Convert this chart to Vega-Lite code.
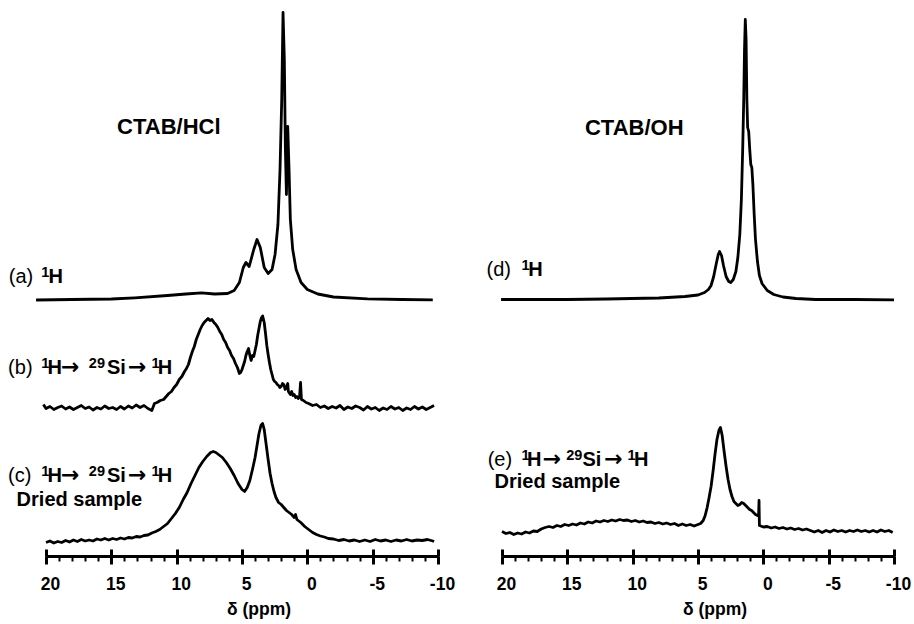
{
"$schema": "https://vega.github.io/schema/vega-lite/v6.json",
"padding": {"left": 8, "top": 10, "right": 5, "bottom": 5},
"autosize": {"type": "pad"},
"bounds": "flush",
"spacing": 64,
"config": {"view": {"stroke": null}, "font": "Liberation Sans"},
"datasets": {
"spec": [
{"s":"a","d":20.76,"i":256},{"s":"a","d":18,"i":256.5},{"s":"a","d":15,"i":257},{"s":"a","d":13.2,"i":258.2},{"s":"a","d":10.7,"i":260.5},{"s":"a","d":9.3,"i":262},{"s":"a","d":8.1,"i":263.2},{"s":"a","d":7.1,"i":262},{"s":"a","d":6.1,"i":262.5},{"s":"a","d":5.6,"i":265.5},{"s":"a","d":5.2,"i":273.5},{"s":"a","d":4.9,"i":288.5},{"s":"a","d":4.7,"i":293.5},{"s":"a","d":4.45,"i":289.5},{"s":"a","d":4.1,"i":306.5},{"s":"a","d":3.85,"i":316.5},{"s":"a","d":3.6,"i":308.5},{"s":"a","d":3.3,"i":288.5},{"s":"a","d":3.0,"i":282.5},{"s":"a","d":2.7,"i":286.5},{"s":"a","d":2.47,"i":301.5},{"s":"a","d":2.25,"i":331.5},{"s":"a","d":2.09,"i":386.5},{"s":"a","d":1.96,"i":456.5},{"s":"a","d":1.86,"i":543.5},{"s":"a","d":1.76,"i":496.5},{"s":"a","d":1.68,"i":406.5},{"s":"a","d":1.6,"i":361.5},{"s":"a","d":1.5,"i":429.5},{"s":"a","d":1.4,"i":386.5},{"s":"a","d":1.3,"i":336.5},{"s":"a","d":1.12,"i":306.5},{"s":"a","d":0.86,"i":286.5},{"s":"a","d":0.48,"i":273.5},{"s":"a","d":0,"i":266.5},{"s":"a","d":-0.8,"i":262},{"s":"a","d":-2.0,"i":259},{"s":"a","d":-4.6,"i":257.2},{"s":"a","d":-7.2,"i":256.5},{"s":"a","d":-9.6,"i":256.2},

{"s":"b","d":20.2,"i":151.5},{"s":"b","d":20.0,"i":147.5},{"s":"b","d":19.7,"i":149.5},{"s":"b","d":19.4,"i":146.5},{"s":"b","d":19.1,"i":148.5},{"s":"b","d":18.8,"i":150},{"s":"b","d":18.5,"i":147},{"s":"b","d":18.2,"i":149},{"s":"b","d":17.9,"i":146.5},{"s":"b","d":17.6,"i":148.5},{"s":"b","d":17.3,"i":150.5},{"s":"b","d":17.0,"i":147.5},{"s":"b","d":16.7,"i":149},{"s":"b","d":16.4,"i":146},{"s":"b","d":16.1,"i":148.5},{"s":"b","d":15.8,"i":147},{"s":"b","d":15.5,"i":150},{"s":"b","d":15.2,"i":147.5},{"s":"b","d":14.9,"i":148.5},{"s":"b","d":14.6,"i":146.5},{"s":"b","d":14.3,"i":149.5},{"s":"b","d":14.0,"i":147},{"s":"b","d":13.7,"i":150},{"s":"b","d":13.4,"i":148},{"s":"b","d":13.1,"i":151},{"s":"b","d":12.8,"i":148.5},{"s":"b","d":12.5,"i":150.5},{"s":"b","d":12.2,"i":147.5},{"s":"b","d":11.9,"i":145.5},{"s":"b","d":11.7,"i":152.5},{"s":"b","d":11.5,"i":153.5},{"s":"b","d":11.25,"i":155.5},{"s":"b","d":11.0,"i":156.5},{"s":"b","d":10.8,"i":159.5},{"s":"b","d":10.6,"i":162.5},{"s":"b","d":10.4,"i":164.5},{"s":"b","d":10.2,"i":168.5},{"s":"b","d":10.0,"i":171.5},{"s":"b","d":9.8,"i":176.5},{"s":"b","d":9.6,"i":179.5},{"s":"b","d":9.4,"i":184.5},{"s":"b","d":9.25,"i":187.5},{"s":"b","d":9.1,"i":191.5},{"s":"b","d":8.95,"i":198.5},{"s":"b","d":8.8,"i":204.5},{"s":"b","d":8.65,"i":209.5},{"s":"b","d":8.5,"i":216.5},{"s":"b","d":8.35,"i":221.5},{"s":"b","d":8.2,"i":226.5},{"s":"b","d":8.05,"i":230.5},{"s":"b","d":7.9,"i":233.5},{"s":"b","d":7.75,"i":235.5},{"s":"b","d":7.6,"i":237.5},{"s":"b","d":7.45,"i":235.5},{"s":"b","d":7.3,"i":236.5},{"s":"b","d":7.15,"i":233.5},{"s":"b","d":7.0,"i":231.5},{"s":"b","d":6.85,"i":228.5},{"s":"b","d":6.7,"i":224.5},{"s":"b","d":6.55,"i":221.5},{"s":"b","d":6.4,"i":216.5},{"s":"b","d":6.25,"i":213.5},{"s":"b","d":6.1,"i":208.5},{"s":"b","d":5.95,"i":205.5},{"s":"b","d":5.8,"i":200.5},{"s":"b","d":5.65,"i":197.5},{"s":"b","d":5.5,"i":192.5},{"s":"b","d":5.35,"i":188.5},{"s":"b","d":5.2,"i":182.5},{"s":"b","d":5.1,"i":183.5},{"s":"b","d":5.0,"i":186.5},{"s":"b","d":4.9,"i":190.5},{"s":"b","d":4.8,"i":194.5},{"s":"b","d":4.7,"i":200.5},{"s":"b","d":4.6,"i":204.5},{"s":"b","d":4.5,"i":207.5},{"s":"b","d":4.4,"i":200.5},{"s":"b","d":4.3,"i":195.5},{"s":"b","d":4.2,"i":200.5},{"s":"b","d":4.1,"i":199.5},{"s":"b","d":4.0,"i":205.5},{"s":"b","d":3.9,"i":211.5},{"s":"b","d":3.8,"i":220.5},{"s":"b","d":3.7,"i":227.5},{"s":"b","d":3.6,"i":234.5},{"s":"b","d":3.5,"i":238.5},{"s":"b","d":3.42,"i":240},{"s":"b","d":3.3,"i":233.5},{"s":"b","d":3.2,"i":222.5},{"s":"b","d":3.1,"i":210.5},{"s":"b","d":3.0,"i":201.5},{"s":"b","d":2.9,"i":193.5},{"s":"b","d":2.8,"i":186.5},{"s":"b","d":2.7,"i":181.5},{"s":"b","d":2.6,"i":176.5},{"s":"b","d":2.5,"i":174.5},{"s":"b","d":2.4,"i":173.5},{"s":"b","d":2.3,"i":171.5},{"s":"b","d":2.2,"i":170.5},{"s":"b","d":2.1,"i":168.5},{"s":"b","d":2.0,"i":169.5},{"s":"b","d":1.9,"i":172.5},{"s":"b","d":1.8,"i":171.5},{"s":"b","d":1.7,"i":166.5},{"s":"b","d":1.6,"i":168.5},{"s":"b","d":1.5,"i":172.5},{"s":"b","d":1.45,"i":164.5},{"s":"b","d":1.3,"i":161.5},{"s":"b","d":1.2,"i":164.5},{"s":"b","d":1.1,"i":160.5},{"s":"b","d":1.0,"i":161.5},{"s":"b","d":0.9,"i":158.5},{"s":"b","d":0.8,"i":159.5},{"s":"b","d":0.7,"i":157.5},{"s":"b","d":0.6,"i":158.5},{"s":"b","d":0.52,"i":173.5},{"s":"b","d":0.45,"i":156.5},{"s":"b","d":0.3,"i":155.5},{"s":"b","d":0.1,"i":153.5},{"s":"b","d":-0.1,"i":152.5},{"s":"b","d":-0.4,"i":150.5},{"s":"b","d":-0.7,"i":151.5},{"s":"b","d":-1.0,"i":148.5},{"s":"b","d":-1.3,"i":150},{"s":"b","d":-1.6,"i":147.5},{"s":"b","d":-1.9,"i":149.5},{"s":"b","d":-2.2,"i":148},{"s":"b","d":-2.5,"i":150.5},{"s":"b","d":-2.8,"i":146.5},{"s":"b","d":-3.1,"i":149},{"s":"b","d":-3.4,"i":147.5},{"s":"b","d":-3.7,"i":150},{"s":"b","d":-4.0,"i":148.5},{"s":"b","d":-4.3,"i":146},{"s":"b","d":-4.6,"i":149.5},{"s":"b","d":-4.9,"i":147},{"s":"b","d":-5.2,"i":148.5},{"s":"b","d":-5.5,"i":145.5},{"s":"b","d":-5.8,"i":148},{"s":"b","d":-6.1,"i":146.5},{"s":"b","d":-6.4,"i":149.5},{"s":"b","d":-6.7,"i":147},{"s":"b","d":-7.0,"i":148.5},{"s":"b","d":-7.3,"i":145.5},{"s":"b","d":-7.6,"i":148},{"s":"b","d":-7.9,"i":146.5},{"s":"b","d":-8.2,"i":149.5},{"s":"b","d":-8.5,"i":147},{"s":"b","d":-8.8,"i":149},{"s":"b","d":-9.1,"i":146.5},{"s":"b","d":-9.4,"i":148.5},{"s":"b","d":-9.7,"i":150.5},

{"s":"c","d":20.0,"i":13.5},{"s":"c","d":19.7,"i":15},{"s":"c","d":19.4,"i":13},{"s":"c","d":19.1,"i":14.5},{"s":"c","d":18.8,"i":13.5},{"s":"c","d":18.5,"i":15.5},{"s":"c","d":18.2,"i":14},{"s":"c","d":17.9,"i":16},{"s":"c","d":17.6,"i":14.5},{"s":"c","d":17.3,"i":16.5},{"s":"c","d":17.0,"i":15},{"s":"c","d":16.7,"i":16},{"s":"c","d":16.4,"i":15},{"s":"c","d":16.1,"i":17},{"s":"c","d":15.8,"i":16},{"s":"c","d":15.5,"i":17.5},{"s":"c","d":15.2,"i":16},{"s":"c","d":14.9,"i":17.5},{"s":"c","d":14.6,"i":16.5},{"s":"c","d":14.3,"i":18},{"s":"c","d":14.0,"i":17},{"s":"c","d":13.7,"i":18.5},{"s":"c","d":13.4,"i":18},{"s":"c","d":13.1,"i":19.5},{"s":"c","d":12.8,"i":19},{"s":"c","d":12.5,"i":20.5},{"s":"c","d":12.2,"i":21},{"s":"c","d":11.9,"i":23},{"s":"c","d":11.6,"i":24.5},{"s":"c","d":11.3,"i":26.5},{"s":"c","d":11.0,"i":29.5},{"s":"c","d":10.7,"i":32.5},{"s":"c","d":10.4,"i":37.5},{"s":"c","d":10.1,"i":42.5},{"s":"c","d":9.8,"i":48.5},{"s":"c","d":9.5,"i":56.5},{"s":"c","d":9.2,"i":63.5},{"s":"c","d":8.9,"i":72.5},{"s":"c","d":8.6,"i":80.5},{"s":"c","d":8.3,"i":88.5},{"s":"c","d":8.0,"i":94.5},{"s":"c","d":7.7,"i":99.5},{"s":"c","d":7.4,"i":103.5},{"s":"c","d":7.2,"i":104.5},{"s":"c","d":7.0,"i":103.5},{"s":"c","d":6.8,"i":101.5},{"s":"c","d":6.5,"i":98.5},{"s":"c","d":6.2,"i":93.5},{"s":"c","d":5.9,"i":87.5},{"s":"c","d":5.6,"i":80.5},{"s":"c","d":5.3,"i":72.5},{"s":"c","d":5.0,"i":66.5},{"s":"c","d":4.8,"i":64.5},{"s":"c","d":4.6,"i":68.5},{"s":"c","d":4.4,"i":75.5},{"s":"c","d":4.2,"i":86.5},{"s":"c","d":4.0,"i":98.5},{"s":"c","d":3.85,"i":110.5},{"s":"c","d":3.7,"i":122.5},{"s":"c","d":3.55,"i":130.5},{"s":"c","d":3.42,"i":132.5},{"s":"c","d":3.3,"i":126.5},{"s":"c","d":3.15,"i":111.5},{"s":"c","d":3.0,"i":96.5},{"s":"c","d":2.85,"i":82.5},{"s":"c","d":2.7,"i":72.5},{"s":"c","d":2.55,"i":64.5},{"s":"c","d":2.4,"i":58.5},{"s":"c","d":2.2,"i":53.5},{"s":"c","d":2.0,"i":51.5},{"s":"c","d":1.8,"i":48.5},{"s":"c","d":1.6,"i":45.5},{"s":"c","d":1.4,"i":43.5},{"s":"c","d":1.2,"i":41.5},{"s":"c","d":1.0,"i":38.5},{"s":"c","d":0.9,"i":41.5},{"s":"c","d":0.8,"i":36.5},{"s":"c","d":0.5,"i":33.5},{"s":"c","d":0.2,"i":29.5},{"s":"c","d":-0.1,"i":26.5},{"s":"c","d":-0.4,"i":23.5},{"s":"c","d":-0.7,"i":21.5},{"s":"c","d":-1.0,"i":20},{"s":"c","d":-1.3,"i":19},{"s":"c","d":-1.6,"i":17.5},{"s":"c","d":-2.0,"i":17},{"s":"c","d":-2.4,"i":15.5},{"s":"c","d":-2.8,"i":16.5},{"s":"c","d":-3.2,"i":15},{"s":"c","d":-3.6,"i":16},{"s":"c","d":-4.0,"i":14.5},{"s":"c","d":-4.4,"i":16},{"s":"c","d":-4.8,"i":14.5},{"s":"c","d":-5.2,"i":16.5},{"s":"c","d":-5.6,"i":15},{"s":"c","d":-6.0,"i":16},{"s":"c","d":-6.4,"i":14.5},{"s":"c","d":-6.8,"i":16},{"s":"c","d":-7.2,"i":15},{"s":"c","d":-7.6,"i":16.5},{"s":"c","d":-8.0,"i":15},{"s":"c","d":-8.4,"i":16},{"s":"c","d":-8.8,"i":15.5},{"s":"c","d":-9.2,"i":16.5},{"s":"c","d":-9.6,"i":15},{"s":"c","d":-9.7,"i":14.5},

{"s":"d","d":20.07,"i":256.5},{"s":"d","d":15,"i":256.5},{"s":"d","d":12,"i":257},{"s":"d","d":10.1,"i":257.5},{"s":"d","d":8,"i":258},{"s":"d","d":6,"i":259.5},{"s":"d","d":5,"i":261},{"s":"d","d":4.5,"i":263.5},{"s":"d","d":4.2,"i":266.5},{"s":"d","d":4.0,"i":270.5},{"s":"d","d":3.8,"i":279.5},{"s":"d","d":3.6,"i":292.5},{"s":"d","d":3.45,"i":301.5},{"s":"d","d":3.35,"i":304.5},{"s":"d","d":3.2,"i":300.5},{"s":"d","d":3.05,"i":290.5},{"s":"d","d":2.85,"i":279.5},{"s":"d","d":2.65,"i":274.5},{"s":"d","d":2.5,"i":273.5},{"s":"d","d":2.3,"i":276.5},{"s":"d","d":2.1,"i":284.5},{"s":"d","d":1.95,"i":298.5},{"s":"d","d":1.8,"i":321.5},{"s":"d","d":1.68,"i":356.5},{"s":"d","d":1.58,"i":406.5},{"s":"d","d":1.5,"i":456.5},{"s":"d","d":1.44,"i":506.5},{"s":"d","d":1.38,"i":536.5},{"s":"d","d":1.32,"i":516.5},{"s":"d","d":1.26,"i":456.5},{"s":"d","d":1.2,"i":428.5},{"s":"d","d":1.12,"i":424.5},{"s":"d","d":1.04,"i":406.5},{"s":"d","d":0.96,"i":391.5},{"s":"d","d":0.88,"i":388.5},{"s":"d","d":0.8,"i":371.5},{"s":"d","d":0.7,"i":341.5},{"s":"d","d":0.6,"i":316.5},{"s":"d","d":0.45,"i":294.5},{"s":"d","d":0.3,"i":280.5},{"s":"d","d":0.1,"i":272.5},{"s":"d","d":-0.3,"i":265.5},{"s":"d","d":-0.8,"i":261.5},{"s":"d","d":-1.5,"i":259},{"s":"d","d":-2.5,"i":257.5},{"s":"d","d":-4,"i":256.5},{"s":"d","d":-7,"i":256.5},{"s":"d","d":-10,"i":256.2},

{"s":"e","d":20.0,"i":24.5},{"s":"e","d":19.7,"i":22.5},{"s":"e","d":19.4,"i":23.5},{"s":"e","d":19.1,"i":21.5},{"s":"e","d":18.8,"i":23},{"s":"e","d":18.5,"i":22},{"s":"e","d":18.2,"i":24},{"s":"e","d":17.9,"i":23},{"s":"e","d":17.6,"i":25},{"s":"e","d":17.3,"i":24.5},{"s":"e","d":17.0,"i":27},{"s":"e","d":16.7,"i":28.5},{"s":"e","d":16.4,"i":29.5},{"s":"e","d":16.1,"i":28.5},{"s":"e","d":15.8,"i":30.5},{"s":"e","d":15.5,"i":29.5},{"s":"e","d":15.2,"i":31.5},{"s":"e","d":14.9,"i":30.5},{"s":"e","d":14.6,"i":32},{"s":"e","d":14.3,"i":31},{"s":"e","d":14.0,"i":33},{"s":"e","d":13.7,"i":32},{"s":"e","d":13.4,"i":34},{"s":"e","d":13.1,"i":33},{"s":"e","d":12.8,"i":35},{"s":"e","d":12.5,"i":34},{"s":"e","d":12.2,"i":35.5},{"s":"e","d":11.9,"i":34.5},{"s":"e","d":11.6,"i":36},{"s":"e","d":11.3,"i":35},{"s":"e","d":11.0,"i":36.5},{"s":"e","d":10.7,"i":35.5},{"s":"e","d":10.4,"i":36},{"s":"e","d":10.1,"i":34.5},{"s":"e","d":9.8,"i":35.5},{"s":"e","d":9.5,"i":34},{"s":"e","d":9.2,"i":35},{"s":"e","d":8.9,"i":33.5},{"s":"e","d":8.6,"i":34},{"s":"e","d":8.3,"i":32.5},{"s":"e","d":8.0,"i":33.5},{"s":"e","d":7.7,"i":32},{"s":"e","d":7.4,"i":33},{"s":"e","d":7.1,"i":31.5},{"s":"e","d":6.8,"i":32.5},{"s":"e","d":6.5,"i":30.5},{"s":"e","d":6.2,"i":32},{"s":"e","d":5.9,"i":30.5},{"s":"e","d":5.6,"i":31.5},{"s":"e","d":5.3,"i":30},{"s":"e","d":5.0,"i":31.5},{"s":"e","d":4.8,"i":32.5},{"s":"e","d":4.6,"i":35.5},{"s":"e","d":4.45,"i":40.5},{"s":"e","d":4.3,"i":48.5},{"s":"e","d":4.15,"i":58.5},{"s":"e","d":4.0,"i":69.5},{"s":"e","d":3.85,"i":84.5},{"s":"e","d":3.7,"i":101.5},{"s":"e","d":3.55,"i":116.5},{"s":"e","d":3.4,"i":125.5},{"s":"e","d":3.28,"i":128.5},{"s":"e","d":3.15,"i":120.5},{"s":"e","d":3.0,"i":104.5},{"s":"e","d":2.85,"i":89.5},{"s":"e","d":2.7,"i":76.5},{"s":"e","d":2.55,"i":66.5},{"s":"e","d":2.4,"i":59.5},{"s":"e","d":2.25,"i":54.5},{"s":"e","d":2.1,"i":52.5},{"s":"e","d":1.95,"i":50.5},{"s":"e","d":1.8,"i":51.5},{"s":"e","d":1.65,"i":53.5},{"s":"e","d":1.5,"i":52.5},{"s":"e","d":1.35,"i":50.5},{"s":"e","d":1.2,"i":48.5},{"s":"e","d":1.05,"i":46.5},{"s":"e","d":0.9,"i":45.5},{"s":"e","d":0.75,"i":43.5},{"s":"e","d":0.6,"i":41.5},{"s":"e","d":0.45,"i":40.5},{"s":"e","d":0.36,"i":41.5},{"s":"e","d":0.33,"i":55.5},{"s":"e","d":0.3,"i":30.5},{"s":"e","d":0.0,"i":29},{"s":"e","d":-0.3,"i":29.5},{"s":"e","d":-0.6,"i":28},{"s":"e","d":-0.9,"i":29},{"s":"e","d":-1.2,"i":27.5},{"s":"e","d":-1.5,"i":28.5},{"s":"e","d":-1.8,"i":27},{"s":"e","d":-2.1,"i":28},{"s":"e","d":-2.4,"i":26.5},{"s":"e","d":-2.7,"i":27.5},{"s":"e","d":-3.0,"i":26},{"s":"e","d":-3.3,"i":27},{"s":"e","d":-3.6,"i":25.5},{"s":"e","d":-3.9,"i":24},{"s":"e","d":-4.2,"i":25.5},{"s":"e","d":-4.5,"i":23.5},{"s":"e","d":-4.8,"i":25.5},{"s":"e","d":-5.1,"i":24},{"s":"e","d":-5.4,"i":26},{"s":"e","d":-5.7,"i":24.5},{"s":"e","d":-6.0,"i":25.5},{"s":"e","d":-6.3,"i":24},{"s":"e","d":-6.6,"i":25.5},{"s":"e","d":-6.9,"i":24.5},{"s":"e","d":-7.2,"i":26},{"s":"e","d":-7.5,"i":24.5},{"s":"e","d":-7.8,"i":25.5},{"s":"e","d":-8.1,"i":24},{"s":"e","d":-8.4,"i":25.5},{"s":"e","d":-8.7,"i":24},{"s":"e","d":-9.0,"i":26},{"s":"e","d":-9.3,"i":24.5},{"s":"e","d":-9.6,"i":25.5},{"s":"e","d":-9.9,"i":23.5}
],
"lab": [
{"p":"L","k":"n","d":22.85,"i":273.2,"t":"(a)"},
{"p":"L","k":"s","d":20.36,"i":279.2,"t":"1"},
{"p":"L","k":"b","d":19.81,"i":273.2,"t":"H"},
{"p":"L","k":"n","d":22.9,"i":182.5,"t":"(b)"},
{"p":"L","k":"s","d":20.36,"i":188.5,"t":"1"},
{"p":"L","k":"b","d":19.88,"i":182.5,"t":"H"},
{"p":"L","k":"a","d":18.86,"i":182.5,"t":"→"},
{"p":"L","k":"s","d":16.72,"i":188.5,"t":"29"},
{"p":"L","k":"b","d":15.33,"i":182.5,"t":"Si"},
{"p":"L","k":"a","d":13.72,"i":182.5,"t":"→"},
{"p":"L","k":"s","d":11.92,"i":188.5,"t":"1"},
{"p":"L","k":"b","d":11.45,"i":182.5,"t":"H"},
{"p":"L","k":"n","d":22.9,"i":73.8,"t":"(c)"},
{"p":"L","k":"s","d":20.36,"i":79.8,"t":"1"},
{"p":"L","k":"b","d":19.88,"i":73.8,"t":"H"},
{"p":"L","k":"a","d":18.86,"i":73.8,"t":"→"},
{"p":"L","k":"s","d":16.72,"i":79.8,"t":"29"},
{"p":"L","k":"b","d":15.33,"i":73.8,"t":"Si"},
{"p":"L","k":"a","d":13.72,"i":73.8,"t":"→"},
{"p":"L","k":"s","d":11.92,"i":79.8,"t":"1"},
{"p":"L","k":"b","d":11.45,"i":73.8,"t":"H"},
{"p":"L","k":"b","d":22.25,"i":49.8,"t":"Dried sample"},
{"p":"L","k":"t","d":14.56,"i":422.5,"t":"CTAB/HCl"},
{"p":"R","k":"n","d":21.18,"i":279.8,"t":"(d)"},
{"p":"R","k":"s","d":18.5,"i":285.8,"t":"1"},
{"p":"R","k":"b","d":18.0,"i":279.8,"t":"H"},
{"p":"R","k":"n","d":21.1,"i":90.5,"t":"(e)"},
{"p":"R","k":"s","d":18.5,"i":96.5,"t":"1"},
{"p":"R","k":"b","d":18.08,"i":90.5,"t":"H"},
{"p":"R","k":"a","d":16.88,"i":90.5,"t":"→"},
{"p":"R","k":"s","d":15.08,"i":96.5,"t":"29"},
{"p":"R","k":"b","d":13.84,"i":90.5,"t":"Si"},
{"p":"R","k":"a","d":12.17,"i":90.5,"t":"→"},
{"p":"R","k":"s","d":10.4,"i":96.5,"t":"1"},
{"p":"R","k":"b","d":9.9,"i":90.5,"t":"H"},
{"p":"R","k":"b","d":20.57,"i":68.5,"t":"Dried sample"},
{"p":"R","k":"t","d":13.65,"i":421.5,"t":"CTAB/OH"}
]
},
"hconcat": [
{
"width": 392, "height": 546,
"resolve": {"axis": {"x": "independent"}},
"layer": [
{"data": {"name": "spec"}, "transform": [{"filter": {"field": "s", "oneOf": ["a","b","c"]}}],
 "mark": {"type": "line", "color": "black", "strokeWidth": 2.8, "strokeJoin": "round"},
 "encoding": {
  "x": {"field": "d", "type": "quantitative", "scale": {"domain": [20, -10], "nice": false, "zero": false},
   "axis": {"orient": "bottom", "values": [20,15,10,5,0,-5,-10], "domain": true, "domainColor": "black", "domainWidth": 3, "ticks": true, "tickColor": "black", "tickSize": 8, "tickWidth": 3, "labelFont": "Liberation Sans", "labelFontWeight": "bold", "labelFontSize": 17.5, "labelColor": "black", "labelPadding": 11, "labelOffset": 4, "labelFlush": false, "labelOverlap": false, "labelBound": false, "labelExpr": "'' + datum.value", "grid": false, "title": "δ (ppm)", "titleFont": "Liberation Sans", "titleFontWeight": "bold", "titleFontSize": 17.5, "titleColor": "black", "titleX": 212.5, "titleY": 58, "titleBaseline": "alphabetic", "titleAlign": "center"}},
  "y": {"field": "i", "type": "quantitative", "scale": {"domain": [0, 546], "nice": false, "zero": false}, "axis": null},
  "detail": {"field": "s"}
 }},
{"data": {"name": "lab"}, "transform": [{"filter": "datum.p == 'L' && datum.k == 'n'"}],
 "mark": {"type": "text", "align": "left", "baseline": "alphabetic", "fontSize": 20, "font": "Liberation Sans", "color": "black"},
 "encoding": {
  "x": {"field": "d", "type": "quantitative", "scale": {"domain": [20, -10], "nice": false, "zero": false},
   "axis": {"orient": "bottom", "values": [20,19,18,17,16,15,14,13,12,11,10,9,8,7,6,5,4,3,2,1,0,-1,-2,-3,-4,-5,-6,-7,-8,-9,-10], "domain": false, "labels": false, "title": null, "grid": false, "ticks": true, "tickSize": 5, "tickWidth": 2, "tickColor": "black"}},
  "y": {"field": "i", "type": "quantitative", "scale": {"domain": [0, 546], "nice": false, "zero": false}, "axis": null},
  "text": {"field": "t"}
 }},
{"data": {"name": "lab"}, "transform": [{"filter": "datum.p == 'L' && datum.k == 'b'"}],
 "mark": {"type": "text", "align": "left", "baseline": "alphabetic", "fontSize": 20, "fontWeight": "bold", "font": "Liberation Sans", "color": "black"},
 "encoding": {
  "x": {"field": "d", "type": "quantitative", "scale": {"domain": [20, -10], "nice": false, "zero": false},
   "axis": {"orient": "bottom", "values": [20,15,10,5,0,-5,-10], "domain": false, "labels": false, "title": null, "grid": false, "ticks": true, "tickSize": -7, "tickWidth": 3, "tickColor": "black"}},
  "y": {"field": "i", "type": "quantitative", "scale": {"domain": [0, 546], "nice": false, "zero": false}, "axis": null},
  "text": {"field": "t"}
 }},
{"data": {"name": "lab"}, "transform": [{"filter": "datum.p == 'L' && datum.k == 'a'"}],
 "mark": {"type": "text", "align": "left", "baseline": "alphabetic", "fontSize": 22, "fontWeight": "bold", "font": "DejaVu Sans", "color": "black"},
 "encoding": {
  "x": {"field": "d", "type": "quantitative", "scale": {"domain": [20, -10], "nice": false, "zero": false}, "axis": null},
  "y": {"field": "i", "type": "quantitative", "scale": {"domain": [0, 546], "nice": false, "zero": false}, "axis": null},
  "text": {"field": "t"}
 }},
{"data": {"name": "lab"}, "transform": [{"filter": "datum.p == 'L' && datum.k == 's'"}],
 "mark": {"type": "text", "align": "left", "baseline": "alphabetic", "fontSize": 14.5, "fontWeight": "bold", "font": "Liberation Sans", "color": "black"},
 "encoding": {
  "x": {"field": "d", "type": "quantitative", "scale": {"domain": [20, -10], "nice": false, "zero": false}, "axis": null},
  "y": {"field": "i", "type": "quantitative", "scale": {"domain": [0, 546], "nice": false, "zero": false}, "axis": null},
  "text": {"field": "t"}
 }},
{"data": {"name": "lab"}, "transform": [{"filter": "datum.p == 'L' && datum.k == 't'"}],
 "mark": {"type": "text", "align": "left", "baseline": "alphabetic", "fontSize": 22, "fontWeight": "bold", "font": "Liberation Sans", "color": "black"},
 "encoding": {
  "x": {"field": "d", "type": "quantitative", "scale": {"domain": [20, -10], "nice": false, "zero": false}, "axis": null},
  "y": {"field": "i", "type": "quantitative", "scale": {"domain": [0, 546], "nice": false, "zero": false}, "axis": null},
  "text": {"field": "t"}
 }}
]
},
{
"width": 392, "height": 546,
"resolve": {"axis": {"x": "independent"}},
"layer": [
{"data": {"name": "spec"}, "transform": [{"filter": {"field": "s", "oneOf": ["d","e"]}}],
 "mark": {"type": "line", "color": "black", "strokeWidth": 2.8, "strokeJoin": "round"},
 "encoding": {
  "x": {"field": "d", "type": "quantitative", "scale": {"domain": [20, -10], "nice": false, "zero": false},
   "axis": {"orient": "bottom", "values": [20,15,10,5,0,-5,-10], "domain": true, "domainColor": "black", "domainWidth": 3, "ticks": true, "tickColor": "black", "tickSize": 8, "tickWidth": 3, "labelFont": "Liberation Sans", "labelFontWeight": "bold", "labelFontSize": 17.5, "labelColor": "black", "labelPadding": 11, "labelOffset": 4, "labelFlush": false, "labelOverlap": false, "labelBound": false, "labelExpr": "'' + datum.value", "grid": false, "title": "δ (ppm)", "titleFont": "Liberation Sans", "titleFontWeight": "bold", "titleFontSize": 17.5, "titleColor": "black", "titleX": 212.5, "titleY": 58, "titleBaseline": "alphabetic", "titleAlign": "center"}},
  "y": {"field": "i", "type": "quantitative", "scale": {"domain": [0, 546], "nice": false, "zero": false}, "axis": null},
  "detail": {"field": "s"}
 }},
{"data": {"name": "lab"}, "transform": [{"filter": "datum.p == 'R' && datum.k == 'n'"}],
 "mark": {"type": "text", "align": "left", "baseline": "alphabetic", "fontSize": 20, "font": "Liberation Sans", "color": "black"},
 "encoding": {
  "x": {"field": "d", "type": "quantitative", "scale": {"domain": [20, -10], "nice": false, "zero": false},
   "axis": {"orient": "bottom", "values": [20,19,18,17,16,15,14,13,12,11,10,9,8,7,6,5,4,3,2,1,0,-1,-2,-3,-4,-5,-6,-7,-8,-9,-10], "domain": false, "labels": false, "title": null, "grid": false, "ticks": true, "tickSize": 5, "tickWidth": 2, "tickColor": "black"}},
  "y": {"field": "i", "type": "quantitative", "scale": {"domain": [0, 546], "nice": false, "zero": false}, "axis": null},
  "text": {"field": "t"}
 }},
{"data": {"name": "lab"}, "transform": [{"filter": "datum.p == 'R' && datum.k == 'b'"}],
 "mark": {"type": "text", "align": "left", "baseline": "alphabetic", "fontSize": 20, "fontWeight": "bold", "font": "Liberation Sans", "color": "black"},
 "encoding": {
  "x": {"field": "d", "type": "quantitative", "scale": {"domain": [20, -10], "nice": false, "zero": false},
   "axis": {"orient": "bottom", "values": [20,15,10,5,0,-5,-10], "domain": false, "labels": false, "title": null, "grid": false, "ticks": true, "tickSize": -7, "tickWidth": 3, "tickColor": "black"}},
  "y": {"field": "i", "type": "quantitative", "scale": {"domain": [0, 546], "nice": false, "zero": false}, "axis": null},
  "text": {"field": "t"}
 }},
{"data": {"name": "lab"}, "transform": [{"filter": "datum.p == 'R' && datum.k == 'a'"}],
 "mark": {"type": "text", "align": "left", "baseline": "alphabetic", "fontSize": 22, "fontWeight": "bold", "font": "DejaVu Sans", "color": "black"},
 "encoding": {
  "x": {"field": "d", "type": "quantitative", "scale": {"domain": [20, -10], "nice": false, "zero": false}, "axis": null},
  "y": {"field": "i", "type": "quantitative", "scale": {"domain": [0, 546], "nice": false, "zero": false}, "axis": null},
  "text": {"field": "t"}
 }},
{"data": {"name": "lab"}, "transform": [{"filter": "datum.p == 'R' && datum.k == 's'"}],
 "mark": {"type": "text", "align": "left", "baseline": "alphabetic", "fontSize": 14.5, "fontWeight": "bold", "font": "Liberation Sans", "color": "black"},
 "encoding": {
  "x": {"field": "d", "type": "quantitative", "scale": {"domain": [20, -10], "nice": false, "zero": false}, "axis": null},
  "y": {"field": "i", "type": "quantitative", "scale": {"domain": [0, 546], "nice": false, "zero": false}, "axis": null},
  "text": {"field": "t"}
 }},
{"data": {"name": "lab"}, "transform": [{"filter": "datum.p == 'R' && datum.k == 't'"}],
 "mark": {"type": "text", "align": "left", "baseline": "alphabetic", "fontSize": 22, "fontWeight": "bold", "font": "Liberation Sans", "color": "black"},
 "encoding": {
  "x": {"field": "d", "type": "quantitative", "scale": {"domain": [20, -10], "nice": false, "zero": false}, "axis": null},
  "y": {"field": "i", "type": "quantitative", "scale": {"domain": [0, 546], "nice": false, "zero": false}, "axis": null},
  "text": {"field": "t"}
 }}
]
}
]
}
